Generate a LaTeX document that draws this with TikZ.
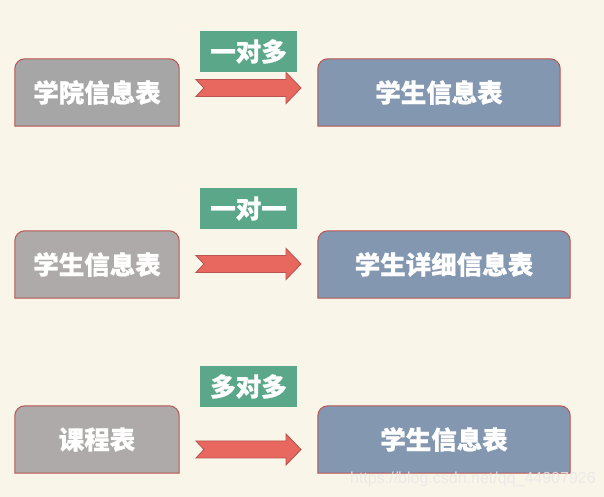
\documentclass[tikz,border=0pt]{standalone}
\usepackage{fontspec}
\newfontfamily\cjk{Noto Sans CJK SC}[BoldFeatures={FakeBold=0.7}]
\newfontfamily\wmfont{Liberation Sans}
\usetikzlibrary{calc}
\definecolor{bgc}{HTML}{F9F5E8}
\definecolor{edgec}{HTML}{B85450}
\definecolor{grayA}{HTML}{A6A6A6}
\definecolor{grayB}{HTML}{AEAAA9}
\definecolor{blueC}{HTML}{8497B0}
\definecolor{greenC}{HTML}{5AA889}
\definecolor{arrowC}{HTML}{E8685F}
\pgfdeclarelayer{bg}
\pgfsetlayers{bg,main}
\tikzset{
  tabnode/.style={inner sep=0pt, minimum height=67pt, text=white, font=\cjk\bfseries\fontsize{25.5}{30}\selectfont},
  leftbox/.style={tabnode, minimum width=164pt},
  rightbox/.style={tabnode, minimum width=#1},
  relbox/.style={fill=greenC, inner sep=0pt, minimum width=97pt, minimum height=41pt, text=white, font=\cjk\bfseries\fontsize{25.5}{30}\selectfont},
  boxline/.style={draw=edgec, line width=1pt},
  bigarrow/.style={fill=arrowC, draw=edgec, line width=0.9pt, line join=miter},
}
\newcommand\tabshape[2]{%
  \filldraw[boxline, fill=#2] (#1.south west) -- ([yshift=-10pt]#1.north west)
    arc[start angle=180,end angle=90,radius=10pt] -- ([xshift=-10pt]#1.north east)
    arc[start angle=90,end angle=0,radius=10pt] -- (#1.south east) -- cycle;}
\newcommand\fatarrow[2]{%
  \filldraw[bigarrow] ($(#1)+(0,8.5)$) -- ($(#2)+(-15,8.5)$) -- ($(#2)+(-15,15.5)$) -- (#2)
    -- ($(#2)+(-15,-15.5)$) -- ($(#2)+(-15,-8.5)$) -- ($(#1)+(0,-8.5)$) -- ($(#1)+(8,0)$) -- cycle;}
\begin{document}
\begin{tikzpicture}[x=1pt,y=1pt]
\begin{pgfonlayer}{bg}
\fill[bgc] (0,0) rectangle (604,497);
\end{pgfonlayer}
\useasboundingbox (0,0) rectangle (604,497);

% row 1
\node[leftbox] (l1) at (97,404.5) {学院信息表};
\node[rightbox=242pt] (r1) at (439,404.5) {学生信息表};
\coordinate (t1) at (196,409);
\coordinate (h1) at (301,409);
\fatarrow{t1}{h1}
\node[relbox] (k1) at (248.5,445.5) {一对多};

% row 2
\node[leftbox] (l2) at (97,232.5) {学生信息表};
\node[rightbox=252pt] (r2) at (444,232.5) {学生详细信息表};
\coordinate (t2) at (196,233);
\coordinate (h2) at (301,233);
\fatarrow{t2}{h2}
\node[relbox] (k2) at (248.5,288.5) {一对一};

% row 3
\node[leftbox] (l3) at (97,57.5) {课程表};
\node[rightbox=252pt] (r3) at (444,57.5) {学生信息表};
\coordinate (t3) at (196,47.5);
\coordinate (h3) at (301,47.5);
\fatarrow{t3}{h3}
\node[relbox] (k3) at (248.5,110.5) {多对多};

\begin{pgfonlayer}{bg}
\tabshape{l1}{grayA}
\tabshape{r1}{blueC}
\tabshape{l2}{grayB}
\tabshape{r2}{blueC}
\tabshape{l3}{grayB}
\tabshape{r3}{blueC}
\end{pgfonlayer}

\node[anchor=base west, inner sep=0pt, text=white!82!gray, opacity=0.85, font=\wmfont\fontsize{16}{18}\selectfont] (wm) at (350,13.5) {https://blog.csdn.net/qq\_44907926};
\end{tikzpicture}
\end{document}
